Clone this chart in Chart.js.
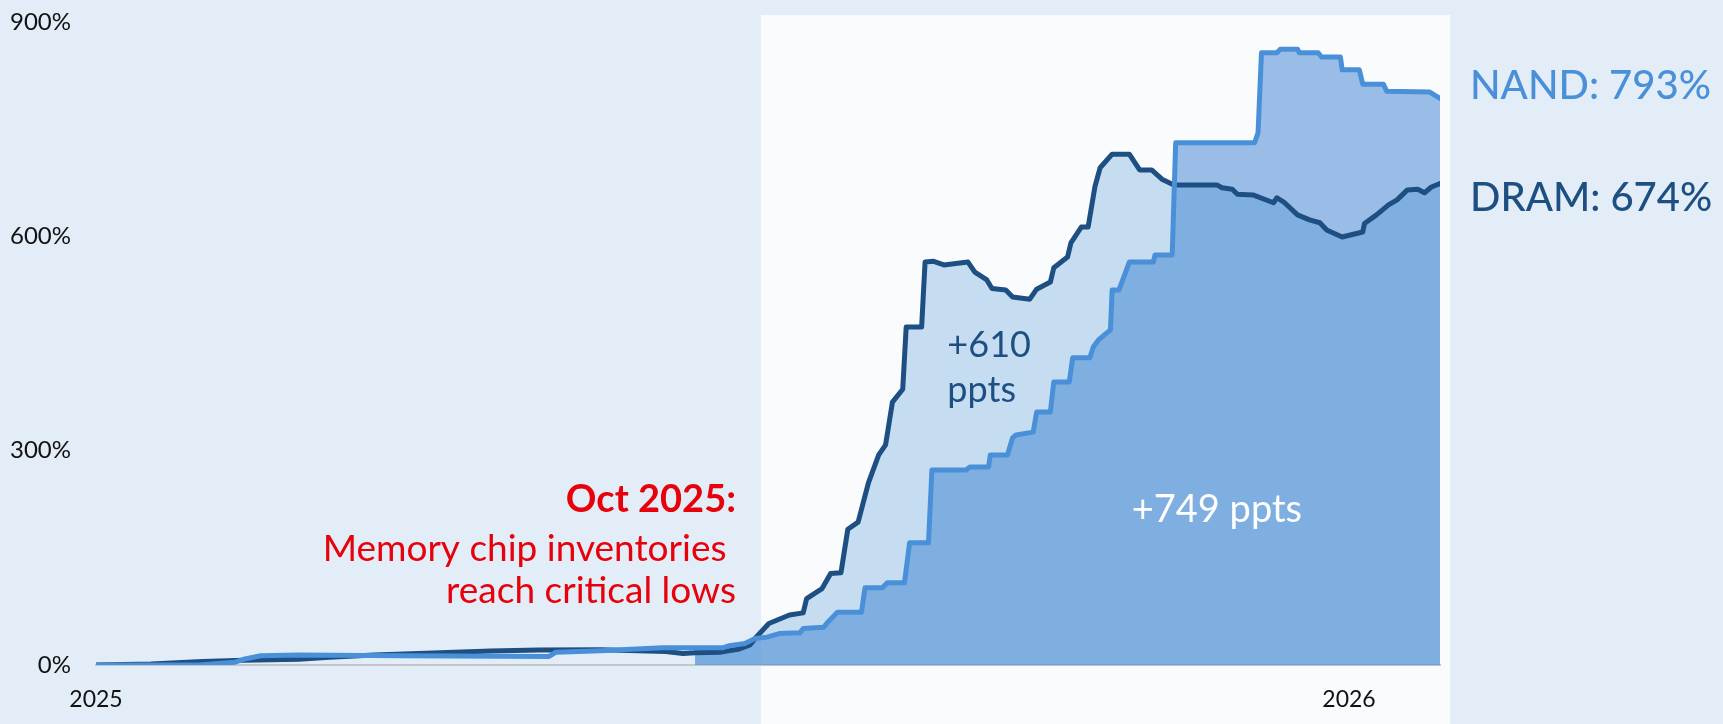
<!DOCTYPE html>
<html>
<head>
<meta charset="utf-8">
<script src="https://cdn.jsdelivr.net/npm/chart.js@4.4.1/dist/chart.umd.min.js"></script>
<style>
  html, body { margin: 0; padding: 0; background: #e3edf8; }
  canvas { display: block; }
</style>
</head>
<body>
<canvas id="memChart" width="1723" height="724"></canvas>
<script>
// cumulative price change since the start of 2025, in percent
// x values are days counted from the first observation
const dramDays = [0, 16, 31, 43, 59, 68, 81, 94, 115, 129, 147, 166, 171, 174.5, 182, 187, 190.5, 192.5, 193.5, 196,
  199, 202, 206, 207, 211.5, 214, 217, 219, 222, 225, 228, 230, 232, 235, 236, 240.5, 241.5, 244, 247, 254,
  256, 259.5, 261, 265, 267, 272, 274, 278, 279, 283, 284, 287, 289, 291, 292.5, 296, 301, 304, 307.5, 310.5,
  314, 326.5, 328, 331, 332.5, 337, 343, 344, 346, 350, 353.5, 356.5, 358.5, 363, 369, 369.5, 373, 376.5, 379, 382,
  385, 387, 389, 391.5]
const dramValues = [0, 1.5, 5, 6.5, 8, 11, 14, 16, 19.5, 21, 21.5, 19, 16, 17, 18, 22, 28, 40, 45, 58,
  64, 70, 73, 93, 107, 128, 129, 190, 200, 255, 294, 308, 368, 386, 473, 473, 564, 565, 560, 564,
  550, 539, 527, 525, 515, 512, 526, 536, 556, 571, 591, 613, 613, 670, 696, 715, 715, 693, 693, 680,
  672, 672, 668, 666, 659, 658, 647, 654, 648, 630, 623, 619, 609, 599, 606, 618, 630, 644, 651, 665,
  666, 661, 669, 674]

const nandDays = [0, 30, 40.5, 43, 48, 59, 89, 132, 134, 147, 165, 174.5, 182.5, 184.5, 189, 192, 195.5, 199, 205, 206,
  212, 213, 216, 223, 224, 229, 230.5, 235.5, 237, 242.5, 243.5, 253.5, 254.5, 260, 260.5, 265.5, 267, 268, 273, 274,
  278, 279, 283.5, 284.5, 289.5, 290.5, 292, 295.5, 296, 298, 301, 308, 308.5, 313.5, 314.5, 337.5, 338.5, 339.5, 344, 345,
  350, 350.5, 356, 357, 362.5, 363, 368, 369, 375, 376, 388.5, 391.5]
const nandValues = [0, 0, 4, 8, 13, 14, 13, 12, 18, 20, 24, 24, 24, 27, 30, 37, 39, 44, 45, 51,
  53, 59, 74, 74, 108, 108, 115, 115, 171, 171, 273, 273, 277, 277, 294, 294, 318, 322, 326, 354,
  354, 396, 396, 430, 430, 445, 455, 469, 525, 525, 564, 564, 574, 574, 731, 731, 745, 857, 857, 862,
  862, 857, 857, 851, 851, 833, 833, 813, 813, 803, 802, 793]

const yearTicks = [0, 365]
const yearLabels = ["2025", "2026"]
const percentTicks = [0, 300, 600, 900]

const fillFrom = 174.5   // shaded areas start here
const panelFrom = 193.7  // highlighted period
const octDay = 199       // reference point for the gains
const noteLines = ["Oct 2025:", "Memory chip inventories ", "reach critical lows"]

const DRAM_COLOR = "#1d4f82"
const NAND_COLOR = "#4a90d9"
const FONT = "Lato, 'Open Sans', sans-serif"

const toPoints = (xs, ys) => xs.map((x, i) => ({ x, y: ys[i] }))
const valueAt = (xs, ys, day) => ys[xs.indexOf(day)]
const last = arr => arr[arr.length - 1]

const areaFill = color => ({
    backgroundColor: ctx => (ctx.p0.parsed.x >= fillFrom ? color : "rgba(0,0,0,0)")
})

const backdrop = {
    id: "backdrop",
    beforeDraw(chart) {
        const { ctx, chartArea, scales } = chart
        const left = scales.x.getPixelForValue(panelFrom)
        ctx.save()
        ctx.fillStyle = "#f9fbfd"
        ctx.fillRect(left, 15, chartArea.right + 10 - left, chart.height - 15)
        ctx.restore()
    }
}

const notes = {
    id: "notes",
    afterDatasetsDraw(chart) {
        const { ctx, chartArea, scales: { x, y } } = chart
        const dramEnd = last(dramValues)
        const nandEnd = last(nandValues)
        const dramGain = dramEnd - valueAt(dramDays, dramValues, octDay)
        const nandGain = nandEnd - valueAt(nandDays, nandValues, octDay)

        ctx.save()
        ctx.textBaseline = "middle"

        // end labels
        ctx.textAlign = "left"
        ctx.font = "500 40px " + FONT
        ctx.fillStyle = NAND_COLOR
        ctx.fillText("NAND: " + nandEnd + "%", chartArea.right + 30, y.getPixelForValue(nandEnd) - 12)
        ctx.fillStyle = DRAM_COLOR
        ctx.fillText("DRAM: " + dramEnd + "%", chartArea.right + 30, y.getPixelForValue(dramEnd) + 15)

        // gains since October
        ctx.font = "36px " + FONT
        ctx.fillStyle = DRAM_COLOR
        ctx.fillText("+" + dramGain, x.getPixelForValue(248), y.getPixelForValue(448))
        ctx.fillText("ppts", x.getPixelForValue(248), y.getPixelForValue(385))
        ctx.textAlign = "center"
        ctx.font = "38px " + FONT
        ctx.fillStyle = "#ffffff"
        ctx.fillText("+" + nandGain + " ppts", x.getPixelForValue(326.5), y.getPixelForValue(218))

        // October note, right-aligned against the highlighted panel
        const right = x.getPixelForValue(panelFrom) - 25
        const rows = [500, 549, 591]
        ctx.textAlign = "right"
        ctx.fillStyle = "#e8000b"
        noteLines.forEach((line, i) => {
            ctx.font = i === 0 ? "bold 38px " + FONT : "37px " + FONT
            ctx.fillText(line, right, rows[i])
        })
        ctx.restore()
    }
}

new Chart(document.getElementById("memChart"), {
    type: "line",
    data: {
        datasets: [
            {
                label: "NAND area",
                data: toPoints(nandDays, nandValues),
                borderWidth: 0,
                borderColor: "rgba(0,0,0,0)",
                fill: "origin",
                backgroundColor: "rgba(88,148,215,0.6)",
                segment: areaFill("rgba(88,148,215,0.6)"),
                order: 4
            },
            {
                label: "DRAM area",
                data: toPoints(dramDays, dramValues),
                borderWidth: 0,
                borderColor: "rgba(0,0,0,0)",
                fill: "origin",
                backgroundColor: "rgba(59,135,212,0.27)",
                segment: areaFill("rgba(59,135,212,0.27)"),
                order: 3
            },
            {
                label: "DRAM",
                data: toPoints(dramDays, dramValues),
                borderColor: DRAM_COLOR,
                borderWidth: 5,
                fill: false,
                order: 2
            },
            {
                label: "NAND",
                data: toPoints(nandDays, nandValues),
                borderColor: NAND_COLOR,
                borderWidth: 5,
                fill: false,
                order: 1
            }
        ]
    },
    options: {
        responsive: false,
        animation: false,
        layout: { autoPadding: false, padding: { left: 0, right: 283, top: 22, bottom: 0 } },
        elements: {
            point: { radius: 0 },
            line: { tension: 0, borderJoinStyle: "round", borderCapStyle: "round" }
        },
        plugins: { legend: { display: false }, tooltip: { enabled: false } },
        scales: {
            x: {
                type: "linear",
                min: 0,
                max: last(dramDays),
                grid: { display: false, drawTicks: false },
                border: { display: true, color: "#c3c7cc", width: 2 },
                afterBuildTicks: s => { s.ticks = yearTicks.map(v => ({ value: v })) },
                afterFit: s => { s.height = 59 },
                ticks: {
                    padding: 21,
                    color: "#111111",
                    font: { family: FONT, size: 23 },
                    callback: v => yearLabels[yearTicks.indexOf(v)]
                }
            },
            y: {
                min: 0,
                max: 900,
                grid: { display: false, drawTicks: false },
                border: { display: false },
                afterBuildTicks: s => { s.ticks = percentTicks.map(v => ({ value: v })) },
                // fixed axis width; the 900% label may sit in the top padding
                afterFit: s => {
                    s.width = 96
                    s.paddingTop = 0
                    s.paddingBottom = 0
                },
                ticks: {
                    padding: 25,
                    color: "#111111",
                    font: { family: FONT, size: 24 },
                    callback: v => v + "%"
                }
            }
        }
    },
    plugins: [backdrop, notes]
})
</script>
</body>
</html>
